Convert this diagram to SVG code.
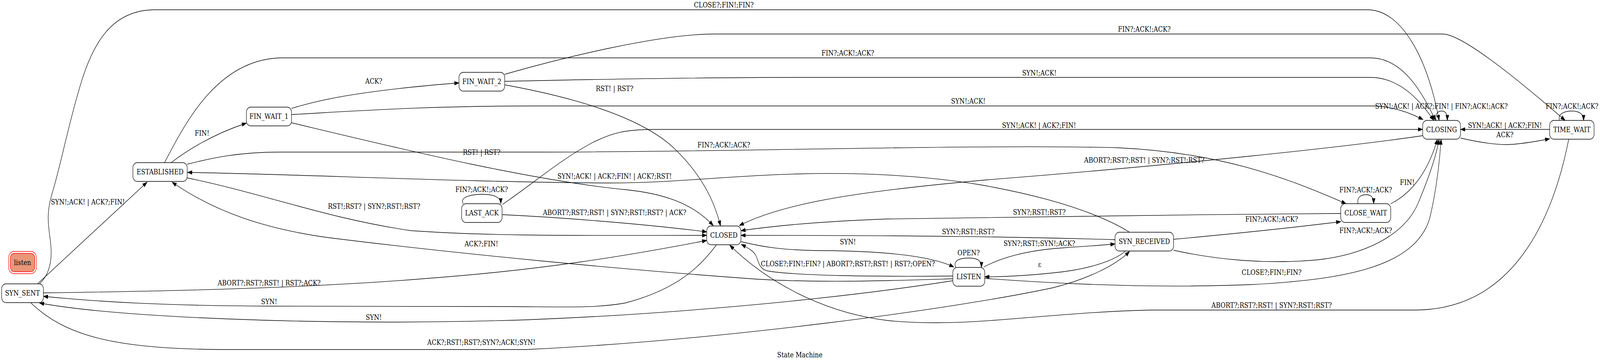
<svg xmlns="http://www.w3.org/2000/svg" width="4863" height="931" viewBox="0 0 4863 931" preserveAspectRatio="none" style="width:100vw;height:100vh;display:block">
<defs>
<marker id="arr" markerUnits="userSpaceOnUse" markerWidth="14" markerHeight="10" refX="13.3" refY="4.67" orient="auto" overflow="visible">
<path d="M0,0 L13.3,4.67 L0,9.33 z" fill="#000" stroke="#000" stroke-width="1"/>
</marker>
</defs>
<style>
text{font-family:"DejaVu Serif","Liberation Serif",serif;font-size:18.67px;text-anchor:middle;fill:#000}
.node rect{fill:#fff;stroke:#000;stroke-width:1.33}
.edge path{fill:none;stroke:#000;stroke-width:1.33;marker-end:url(#arr)}
</style>
<rect x="0" y="0" width="4863" height="931" fill="#fff"/>

<g id="edges">
<g class="edge" id="e1"><path d="M114,726 L447,466"/><text x="267" y="523">SYN!;ACK! | ACK?;FIN!</text></g>
<g class="edge" id="e2"><path d="M120,726 C148,704 160,670 154,623 C148,578 138,550 160,490 C185,420 205,330 240,230 C280,110 340,25 471,25 L4157,25 C4260,25 4340,150 4374,308"/><text x="2200" y="19">CLOSE?;FIN!;FIN?</text></g>
<g class="edge" id="e3"><path d="M520,416 C560,390 640,345 749,315"/><text x="614" y="347">FIN!</text></g>
<g class="edge" id="e4"><path d="M500,416 C560,320 660,148 860,148 L4165,148 C4260,148 4320,230 4363,308"/><text x="2577" y="142">FIN?;ACK!;ACK?</text></g>
<g class="edge" id="e5"><path d="M1534,190 C1700,150 2000,87 2170,87 L4385,87 C4450,87 4650,230 4757,308"/><text x="3478" y="81">FIN?;ACK!;ACK?</text></g>
<g class="edge" id="e6"><path d="M1534,208 C1800,203 2100,198 2420,198 L4165,198 C4250,198 4310,250 4358,308"/><text x="3159" y="193">SYN!;ACK!</text></g>
<g class="edge" id="e7"><path d="M886,277 C950,262 1050,235 1395,212"/><text x="1136" y="214">ACK?</text></g>
<g class="edge" id="e8"><path d="M886,293 C1100,283 1300,271 1620,271 L4165,271 C4230,271 4285,288 4325,306"/><text x="2943" y="265">SYN!;ACK!</text></g>
<g class="edge" id="e9"><path d="M1534,217 C1750,250 1950,300 2050,380 C2130,445 2170,510 2190,578"/><text x="1868" y="233">RST! | RST?</text></g>
<g class="edge" id="e10"><path d="M886,314 C1200,377 1600,460 1900,485 C2030,496 2110,525 2168,577"/><text x="1464" y="396">RST! | RST?</text></g>
<g class="edge" id="e11"><path d="M569,420 C640,405 720,389 850,389 L1650,389 C2200,389 3000,368 3400,378 C3700,390 3900,450 4091,521"/><text x="2200" y="377">FIN?;ACK!;ACK?</text></g>
<g class="edge" id="e12"><path d="M3433,594 C3350,550 3200,505 2975,472 C2800,448 2600,440 2420,445 C2200,450 2050,468 1850,468 C1400,466 900,445 570,441"/><text x="1868" y="457">SYN!;ACK! | ACK?;FIN! | ACK?;RST!</text></g>
<g class="edge" id="e13"><path d="M569,455 C800,495 1000,560 1250,590 C1500,605 1800,602 2148,602"/><text x="1137" y="534">RST!;RST? | SYN?;RST!;RST?</text></g>
<g class="edge" id="e14"><path d="M2896,713 C2700,718 2500,724 2300,714 C1900,690 1400,650 1000,608 C800,585 650,540 523,466"/><text x="1463" y="630">ACK?;FIN!</text></g>
<g class="edge" id="e15"><path d="M1408,521 C1395,502 1440,497 1465,497 C1495,497 1522,502 1522,521"/><text x="1464" y="491">FIN?;ACK!;ACK?</text></g>
<g class="edge" id="e16"><path d="M1527,523 C1620,470 1700,410 1800,365 C1860,340 1900,331 1990,331 L4324,331"/><text x="3158" y="327">SYN!;ACK! | ACK?;FIN!</text></g>
<g class="edge" id="e17"><path d="M1527,549 C1700,556 1950,572 2148,593"/><text x="1868" y="550">ABORT?;RST?;RST! | SYN?;RST!;RST? | ACK?</text></g>
<g class="edge" id="e18"><path d="M132,749 C400,746 900,740 1300,712 C1650,690 1900,655 2148,615"/><text x="818" y="730">ABORT?;RST?;RST! | RST?;ACK?</text></g>
<g class="edge" id="e19"><path d="M2177,627 C2130,680 2060,740 1900,775 C1800,790 1700,784 1500,784 L820,783 C500,782 300,772 132,758"/><text x="818" y="778">SYN!</text></g>
<g class="edge" id="e20"><path d="M2896,718 C2500,770 2000,805 1600,818 C1300,826 1000,826 700,816 C450,808 250,795 120,775"/><text x="1136" y="818">SYN!</text></g>
<g class="edge" id="e21"><path d="M94,775 C200,860 350,894 700,894 L1600,894 C2200,870 2900,790 3200,736 C3300,715 3390,680 3433,643"/><text x="1463" y="882">ACK?;RST!;RST?;SYN?;ACK!;SYN!</text></g>
<g class="edge" id="e22"><path d="M2252,618 C2320,632 2380,640 2500,641 C2650,642 2820,650 2899,683"/><text x="2577" y="625">SYN!</text></g>
<g class="edge" id="e23"><path d="M2905,684 C2895,665 2920,660 2944,660 C2970,660 2983,665 2983,684"/><text x="2944" y="653">OPEN?</text></g>
<g class="edge" id="e24"><path d="M2896,706 C2650,708 2420,705 2333,693 C2305,688 2305,665 2297,653 C2290,642 2275,635 2253,625"/><text x="2577" y="681">CLOSE?;FIN!;FIN? | ABORT?;RST?;RST! | RST?;OPEN?</text></g>
<g class="edge" id="e25"><path d="M3389,613 C3100,606 2800,602 2252,602"/><text x="2943" y="599">SYN?;RST!;RST?</text></g>
<g class="edge" id="e26"><path d="M4075,546 C3600,550 3000,553 2700,560 C2500,566 2350,578 2252,590"/><text x="3159" y="549">SYN?;RST!;RST?</text></g>
<g class="edge" id="e27"><path d="M2990,683 C3040,660 3120,640 3230,634 C3300,630 3350,627 3389,624"/><text x="3159" y="629">SYN?;RST!;SYN!;ACK?</text></g>
<g class="edge" id="e28"><path d="M3420,643 C3380,670 3300,690 3200,698 C3120,705 3050,708 2993,708"/><text x="3160" y="683">ε</text></g>
<g class="edge" id="e29"><path d="M2993,712 C3200,725 3500,738 3800,728 C4100,715 4300,680 4345,560 C4365,490 4375,420 4380,356"/><text x="3865" y="703">CLOSE?;FIN!;FIN?</text></g>
<g class="edge" id="e30"><path d="M3567,612 C3750,598 3950,580 4075,567"/><text x="3865" y="567">FIN?;ACK!;ACK?</text></g>
<g class="edge" id="e31"><path d="M3567,640 C3700,665 3850,676 4000,665 C4150,652 4270,600 4310,520 C4340,460 4365,400 4374,356"/><text x="4151" y="596">FIN?;ACK!;ACK?</text></g>
<g class="edge" id="e32"><path d="M4128,521 C4122,503 4140,498 4152,498 C4166,498 4175,503 4175,521"/><text x="4151" y="492">FIN?;ACK!;ACK?</text></g>
<g class="edge" id="e33"><path d="M4227,521 C4290,495 4340,440 4369,356"/><text x="4277" y="473">FIN!</text></g>
<g class="edge" id="e34"><path d="M4324,347 C4100,375 3600,420 3000,460 C2600,490 2380,520 2247,577"/><text x="3478" y="416">ABORT?;RST?;RST! | SYN?;RST!;RST?</text></g>
<g class="edge" id="e35"><path d="M4365,308 C4360,290 4372,284 4382,284 C4393,284 4399,290 4399,308"/><text x="4381" y="278">SYN!;ACK! | ACK?;FIN! | FIN?;ACK!;ACK?</text></g>
<g class="edge" id="e36"><path d="M4439,353 C4500,365 4560,372 4600,369 C4640,366 4680,360 4710,355"/><text x="4574" y="351">ACK?</text></g>
<g class="edge" id="e37"><path d="M4710,331 L4439,331"/><text x="4574" y="327">SYN!;ACK! | ACK?;FIN!</text></g>
<g class="edge" id="e38"><path d="M4740,308 C4733,289 4760,284 4777,284 C4795,284 4813,289 4813,308"/><text x="4778" y="278">FIN?;ACK!;ACK?</text></g>
<g class="edge" id="e39"><path d="M4768,356 C4720,560 4600,793 4300,793 L3500,793 C3150,800 2950,840 2700,820 C2500,800 2330,720 2218,627"/><text x="3865" y="787">ABORT?;RST?;RST! | SYN?;RST!;RST?</text></g>
</g>

<g id="node-listen">
<rect x="26" y="643" width="85" height="57" rx="17" fill="none" stroke="#ff0000" stroke-width="1.33"/>
<rect x="31" y="648" width="75" height="47" rx="13" fill="#e9967a" stroke="#ff0000" stroke-width="1.33"/>
<text x="68.5" y="678">listen</text>
</g>
<g id="node-SYN_SENT" class="node"><rect x="5" y="726" width="127" height="48" rx="13"/><text x="68.5" y="756.5">SYN_SENT</text></g>
<g id="node-ESTABLISHED" class="node"><rect x="404" y="416" width="165" height="48" rx="13"/><text x="486.5" y="446.5">ESTABLISHED</text></g>
<g id="node-FIN_WAIT_1" class="node"><rect x="749" y="274" width="137" height="48" rx="13"/><text x="817.5" y="304.5">FIN_WAIT_1</text></g>
<g id="node-FIN_WAIT_2" class="node"><rect x="1395" y="185" width="139" height="48" rx="13"/><text x="1464.5" y="215.5">FIN_WAIT_2</text></g>
<g id="node-LAST_ACK" class="node"><rect x="1403" y="521" width="123" height="48" rx="13"/><text x="1464.5" y="551.5">LAST_ACK</text></g>
<g id="node-CLOSED" class="node"><rect x="2148" y="578" width="104" height="48" rx="13"/><text x="2200" y="608.5">CLOSED</text></g>
<g id="node-LISTEN" class="node"><rect x="2896" y="684" width="97" height="48" rx="13"/><text x="2944.5" y="714.5">LISTEN</text></g>
<g id="node-SYN_RECEIVED" class="node"><rect x="3389" y="594" width="178" height="48" rx="13"/><text x="3478" y="624.5">SYN_RECEIVED</text></g>
<g id="node-CLOSE_WAIT" class="node"><rect x="4075" y="521" width="152" height="48" rx="13"/><text x="4151" y="551.5">CLOSE_WAIT</text></g>
<g id="node-CLOSING" class="node"><rect x="4324" y="308" width="115" height="48" rx="13"/><text x="4381.5" y="338.5">CLOSING</text></g>
<g id="node-TIME_WAIT" class="node"><rect x="4710" y="308" width="135" height="48" rx="13"/><text x="4777.5" y="338.5">TIME_WAIT</text></g>

<text id="title" x="2431" y="914">State Machine</text>
</svg>
